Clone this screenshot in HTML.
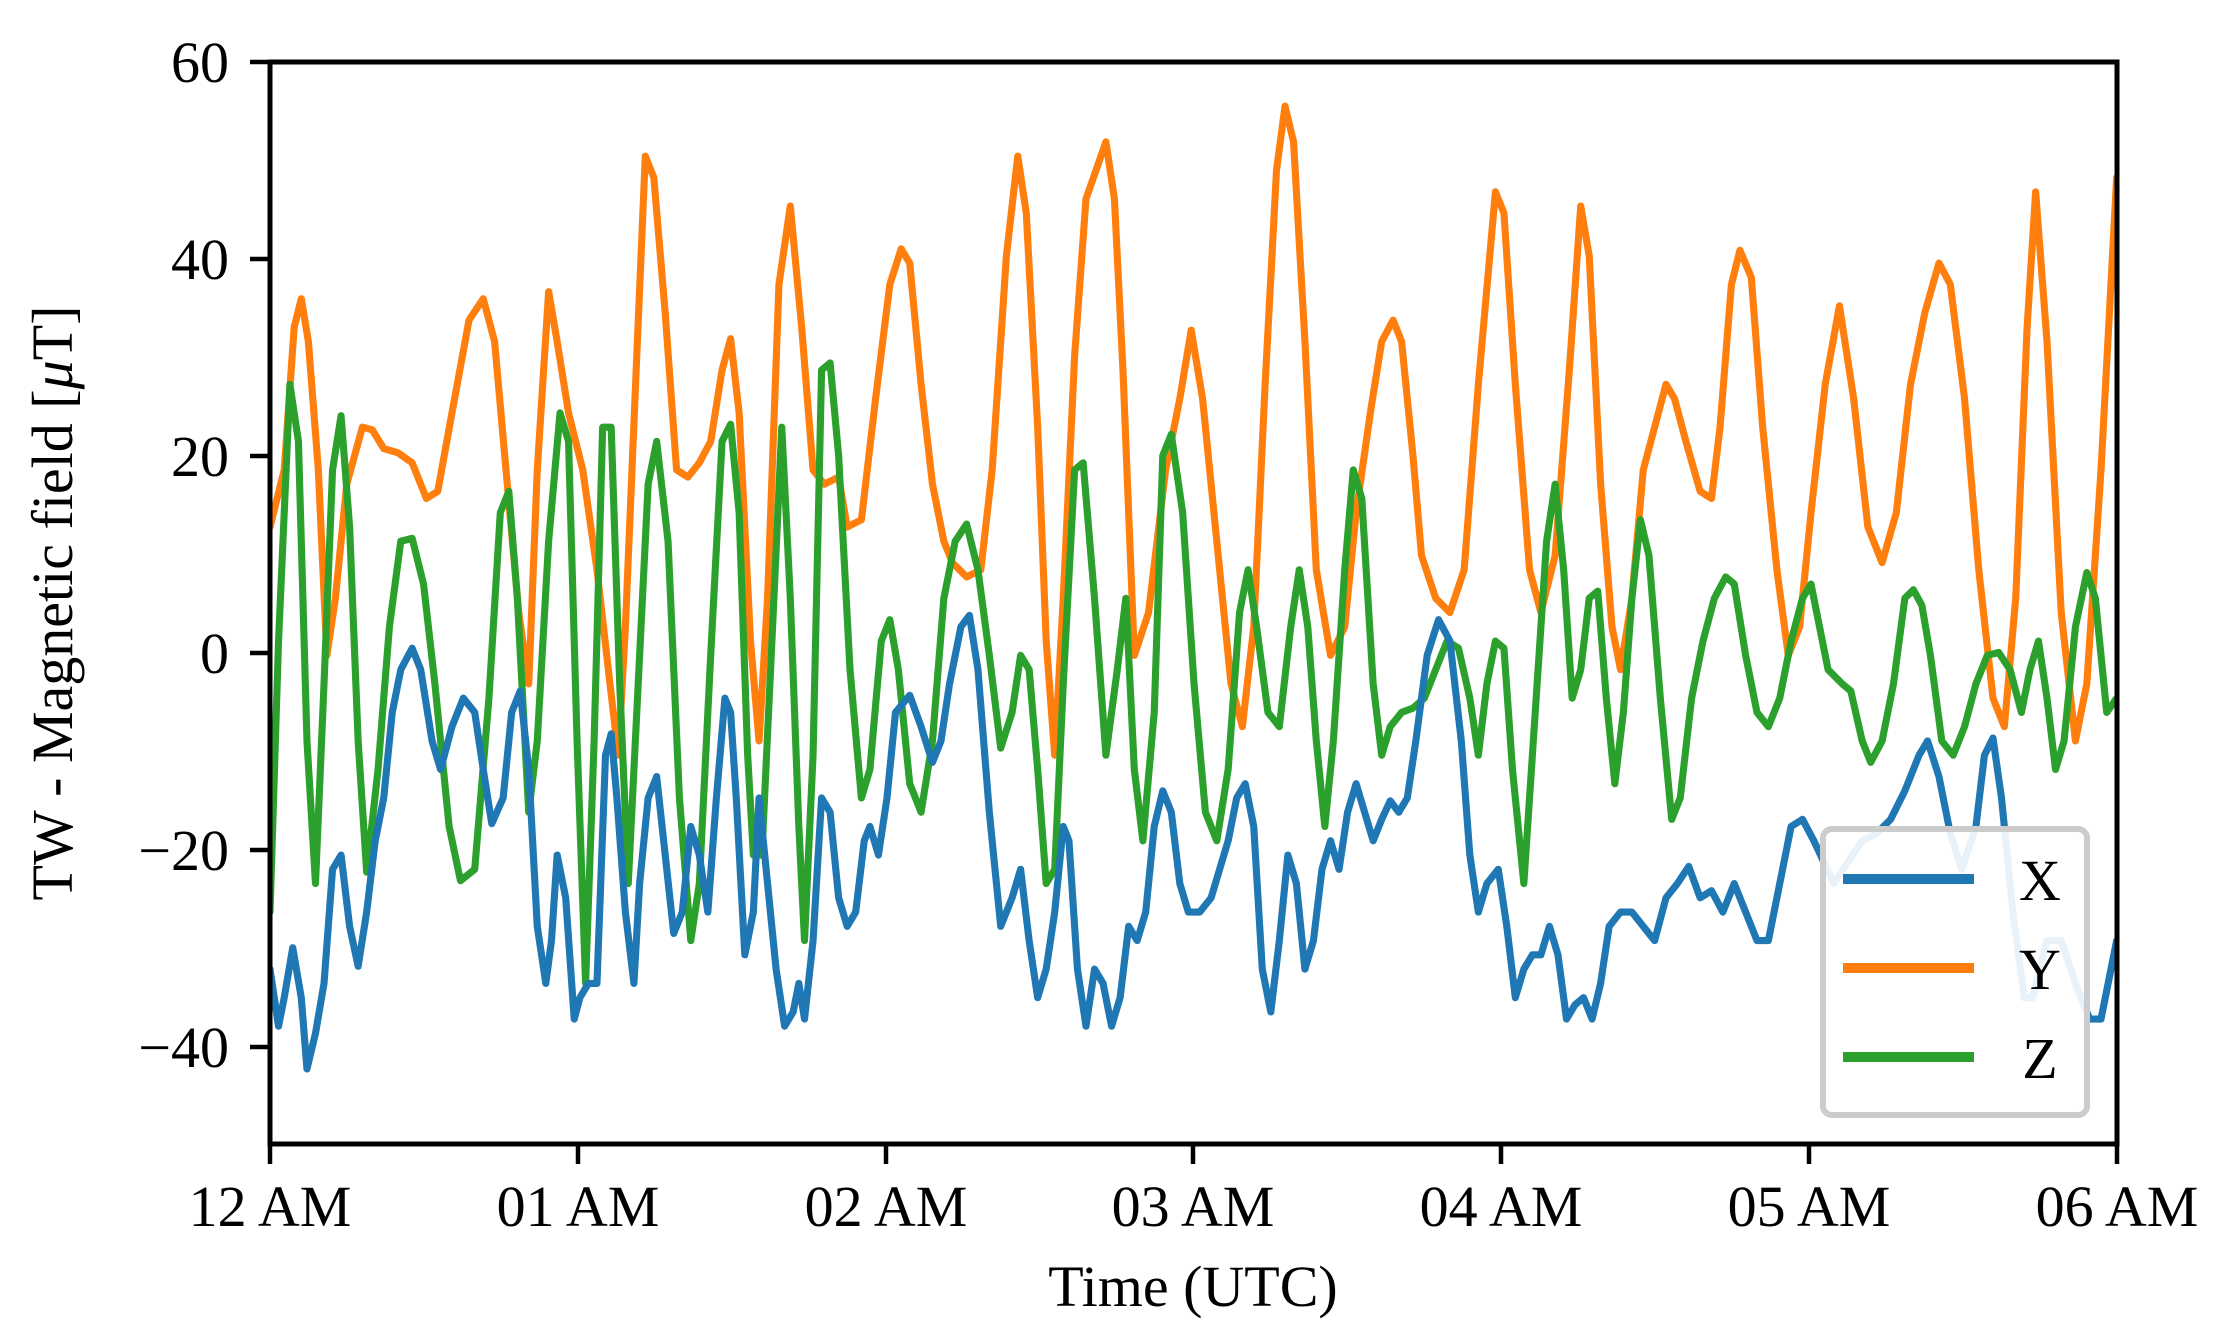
<!DOCTYPE html>
<html><head><meta charset="utf-8"><style>
html,body{margin:0;padding:0;background:#fff;}
svg{display:block;font-family:"Liberation Serif",serif;}
</style></head><body>
<svg width="2229" height="1339" viewBox="0 0 2229 1339" xmlns="http://www.w3.org/2000/svg">
<rect width="2229" height="1339" fill="#fff"/>
<defs><clipPath id="c"><rect x="270" y="62" width="1847" height="1082"/></clipPath></defs>
<g clip-path="url(#c)">
<g transform="translate(270,62) scale(1.4216,1.4263) translate(-190,-44)" fill="none" stroke-width="5" stroke-linejoin="round" stroke-linecap="round">
<polyline stroke="#ff7f0e" points="190,370 200,330 207,230 212,210 217,240 224,330 230,460 236,420 244,340 255,300 262,302 270,315 280,318 290,325 300,350 308,345 318,290 330,225 340,210 348,240 356,330 365,430 372,480 378,330 386,205 392,240 400,290 410,330 420,400 428,470 435,530 440,440 448,250 454,110 460,125 468,220 476,330 484,335 492,325 500,310 508,260 514,238 520,290 528,450 534,520 540,420 548,200 556,145 564,230 572,330 580,340 590,335 596,370 606,365 616,280 626,200 634,175 640,185 648,270 656,340 664,380 670,395 680,405 690,400 698,330 708,180 716,110 722,150 730,300 736,450 742,530 748,420 756,250 764,140 778,100 784,140 790,260 798,460 808,430 820,330 830,280 838,232 846,280 856,380 866,480 874,510 882,440 890,270 898,120 904,75 910,100 918,240 926,400 936,460 946,440 954,360 964,290 972,240 980,225 986,240 994,320 1000,390 1010,420 1020,430 1030,400 1040,270 1052,135 1058,150 1066,270 1076,400 1084,430 1094,390 1104,260 1112,145 1118,180 1126,340 1134,440 1140,470 1148,420 1156,330 1164,300 1172,270 1178,280 1186,310 1196,345 1204,350 1210,300 1218,200 1224,176 1232,195 1240,300 1250,400 1258,460 1266,440 1274,360 1284,270 1294,215 1304,280 1314,370 1324,395 1334,360 1344,270 1354,220 1364,185 1372,200 1382,280 1392,400 1402,490 1410,510 1418,420 1426,230 1432,135 1440,240 1450,430 1460,520 1468,480 1478,330 1489,125"/>
<polyline stroke="#2ca02c" points="190,640 196,450 204,270 210,310 216,520 222,620 228,480 234,330 240,292 246,370 252,520 258,612 266,540 274,440 282,380 290,378 298,410 306,480 316,580 324,618 334,610 344,490 352,360 358,345 364,420 372,570 378,520 386,380 394,290 400,310 406,520 412,690 418,520 424,300 430,300 436,480 442,620 448,500 456,340 462,310 470,380 478,560 486,660 492,620 500,460 508,310 514,298 520,360 526,530 530,600 536,600 544,430 550,300 556,420 562,580 566,660 572,530 578,260 584,255 590,320 598,470 606,560 612,540 620,450 626,435 632,470 640,550 648,570 656,520 664,420 672,380 680,368 688,400 696,460 704,525 712,500 718,460 724,470 730,540 736,620 742,610 748,480 756,330 762,325 770,420 778,530 786,470 792,420 798,540 804,590 812,500 818,320 824,305 832,360 840,480 848,570 856,590 864,540 872,430 878,400 884,440 892,500 900,510 908,440 914,400 920,440 926,520 932,580 938,520 946,400 952,330 958,350 966,480 972,530 978,510 986,500 994,497 1002,490 1010,470 1018,450 1026,455 1034,490 1040,530 1046,480 1052,450 1058,455 1064,540 1072,620 1080,500 1088,380 1094,340 1100,400 1106,490 1112,470 1118,420 1124,415 1130,490 1136,550 1142,500 1148,420 1154,365 1160,390 1168,490 1176,575 1182,560 1190,490 1198,450 1206,420 1214,405 1220,410 1228,460 1236,500 1244,510 1252,490 1260,450 1268,420 1274,410 1280,440 1286,470 1296,480 1302,485 1310,520 1316,535 1324,520 1332,480 1340,420 1346,414 1352,425 1358,460 1366,520 1374,530 1382,510 1390,480 1398,460 1406,458 1414,470 1422,500 1428,470 1434,450 1440,490 1446,540 1452,520 1460,440 1468,402 1474,420 1482,500 1489,490"/>
<polyline stroke="#1f77b4" points="190,680 196,720 200,700 206,665 212,700 216,750 222,725 228,690 234,610 240,600 246,650 252,678 258,640 264,590 270,560 276,500 282,470 290,455 296,470 304,520 310,540 318,510 326,490 334,500 340,540 346,578 354,560 360,500 366,485 372,540 378,650 384,690 388,660 392,600 398,630 404,715 408,700 414,690 420,690 426,530 430,515 434,560 440,640 446,690 450,620 456,560 462,545 468,600 474,655 480,640 486,580 492,600 498,640 504,560 510,490 514,500 518,560 524,670 530,640 534,560 540,620 546,680 552,720 558,710 562,690 566,715 572,660 578,560 584,570 590,630 596,650 602,640 608,590 612,580 618,600 624,560 630,500 640,488 648,510 656,535 662,520 668,480 676,440 682,432 688,470 696,570 704,650 712,630 718,610 724,660 730,700 736,680 742,640 748,580 752,590 758,680 764,720 770,680 776,690 782,720 788,700 794,650 800,660 806,640 812,580 818,555 824,570 830,620 836,640 844,640 852,630 858,610 864,590 870,560 876,550 882,580 888,680 894,710 900,660 906,600 912,620 918,680 924,660 930,610 936,590 942,610 948,570 954,550 960,570 966,590 972,575 978,562 984,570 990,560 996,520 1004,460 1012,435 1020,450 1028,520 1034,600 1040,640 1046,620 1054,610 1060,650 1066,700 1072,680 1078,670 1084,670 1090,650 1096,670 1102,715 1108,705 1114,700 1120,715 1126,690 1132,650 1140,640 1148,640 1156,650 1164,660 1172,630 1180,620 1188,608 1196,630 1204,625 1212,640 1220,620 1228,640 1236,660 1244,660 1252,620 1260,580 1268,575 1276,590 1290,620 1300,605 1310,590 1320,585 1330,575 1340,555 1350,530 1356,520 1364,545 1372,585 1380,610 1390,580 1396,530 1402,518 1408,560 1416,640 1424,700 1430,700 1440,660 1450,660 1460,690 1470,715 1478,715 1489,660"/>
</g>
</g>
<rect x="1823" y="829" width="264" height="286" rx="9" fill="#fff" fill-opacity="0.9" stroke="#cccccc" stroke-width="6"/>
<g stroke-width="10">
<line x1="1843" y1="879" x2="1974" y2="879" stroke="#1f77b4"/>
<line x1="1843" y1="968" x2="1974" y2="968" stroke="#ff7f0e"/>
<line x1="1843" y1="1057" x2="1974" y2="1057" stroke="#2ca02c"/>
</g>
<g font-size="58" text-anchor="middle" fill="#000">
<text x="2040" y="900">X</text>
<text x="2040" y="989">Y</text>
<text x="2040" y="1078">Z</text>
</g>
<rect x="270" y="62" width="1847" height="1082" fill="none" stroke="#000" stroke-width="5"/>
<g stroke="#000" stroke-width="4.5">
<line x1="250" y1="62" x2="270" y2="62"/>
<line x1="250" y1="259" x2="270" y2="259"/>
<line x1="250" y1="456" x2="270" y2="456"/>
<line x1="250" y1="653" x2="270" y2="653"/>
<line x1="250" y1="850" x2="270" y2="850"/>
<line x1="250" y1="1047" x2="270" y2="1047"/>
<line x1="270" y1="1144" x2="270" y2="1164"/>
<line x1="578" y1="1144" x2="578" y2="1164"/>
<line x1="886" y1="1144" x2="886" y2="1164"/>
<line x1="1193" y1="1144" x2="1193" y2="1164"/>
<line x1="1501" y1="1144" x2="1501" y2="1164"/>
<line x1="1809" y1="1144" x2="1809" y2="1164"/>
<line x1="2117" y1="1144" x2="2117" y2="1164"/>
</g>
<g font-size="58" text-anchor="end" fill="#000">
<text x="229" y="82">60</text>
<text x="229" y="279">40</text>
<text x="229" y="476">20</text>
<text x="229" y="673">0</text>
<text x="229" y="870">−20</text>
<text x="229" y="1067">−40</text>
</g>
<g font-size="58" text-anchor="middle" fill="#000">
<text x="270" y="1226">12 AM</text>
<text x="578" y="1226">01 AM</text>
<text x="886" y="1226">02 AM</text>
<text x="1193" y="1226">03 AM</text>
<text x="1501" y="1226">04 AM</text>
<text x="1809" y="1226">05 AM</text>
<text x="2117" y="1226">06 AM</text>
<text x="1193" y="1306">Time (UTC)</text>
<text transform="translate(72,603) rotate(-90)">TW - Magnetic field [<tspan font-style="italic">μ</tspan>T]</text>
</g>
</svg>
</body></html>
